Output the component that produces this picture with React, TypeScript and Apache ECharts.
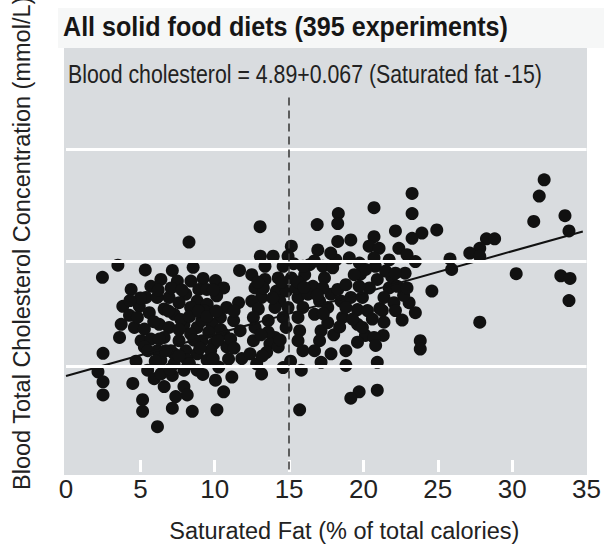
import React, { useEffect, useRef } from "react";
import * as echarts from "echarts";

// [saturated fat % of calories, blood total cholesterol mmol/L]
const experiments: [number, number][] = [
  [3.49, 5.92], [2.45, 5.69], [5.33, 5.83], [4.38, 5.46], [5.71, 5.52], [5.38, 5.31], [3.82, 5.14], [4.93, 5.14],
  [5.6, 5.02], [3.71, 4.8], [4.6, 4.74], [5.27, 4.71], [5.05, 4.49], [5.71, 4.52], [2.49, 4.25], [4.71, 4.1],
  [2.15, 3.9], [2.49, 3.71], [2.49, 3.46], [4.49, 3.68], [5.15, 3.37], [5.15, 3.15], [5.49, 3.93], [5.93, 3.77],
  [8.27, 6.36], [8.55, 5.88], [7.15, 5.82], [6.38, 5.65], [7.49, 5.62], [9.22, 5.67], [10.05, 5.63], [10.6, 5.49],
  [11.67, 5.82], [8.93, 5.46], [6.93, 5.31], [8.05, 5.37], [8.82, 5.24], [9.49, 5.18], [11.6, 5.21], [6.6, 5.09],
  [7.27, 4.99], [8.38, 5.12], [9.27, 5.06], [10.38, 4.93], [11.27, 4.87], [6.27, 4.8], [6.93, 4.74], [7.93, 4.8],
  [8.82, 4.74], [9.82, 4.8], [10.6, 4.62], [11.71, 4.68], [6.6, 4.55], [7.6, 4.49], [8.38, 4.62], [9.15, 4.49],
  [9.93, 4.43], [10.82, 4.37], [6.15, 4.3], [7.05, 4.3], [8.05, 4.3], [8.82, 4.24], [11.82, 4.15], [12.38, 4.24],
  [6.38, 4.12], [7.27, 4.05], [8.15, 4.12], [9.49, 4.12], [10.27, 3.99], [6.38, 3.86], [7.15, 3.83], [7.93, 3.93],
  [8.82, 3.93], [11.15, 3.8], [10.05, 3.74], [6.6, 3.62], [7.93, 3.62], [8.15, 3.46], [7.38, 3.43], [10.6, 3.52],
  [7.15, 3.21], [8.49, 3.15], [10.15, 3.18], [6.15, 2.86],
  [4.27, 4.97], [6.13, 5.31], [7.73, 4.89], [8.6, 4.5], [9.6, 4.65], [11.07, 4.52], [9.13, 4.87], [7.6, 5.21],
  [10.13, 5.34], [10.8, 5.12], [6.27, 4.52], [7.27, 4.24], [9.73, 4.31], [10.93, 4.14], [5.27, 4.37], [4.8, 4.93],
  [8.4, 5.62], [9.47, 5.46], [7.07, 5.49], [3.6, 4.55],
  [5.9, 4.85], [6.9, 5.05], [7.6, 4.7], [8.3, 4.95], [8.9, 5.05], [9.5, 4.95], [10.1, 5.05], [10.4, 4.7],
  [9.0, 4.35], [8.3, 4.05], [7.6, 4.2], [6.7, 4.3], [9.9, 4.15], [11.3, 4.35], [11.3, 5.05], [7.8, 5.45],
  [6.2, 5.45], [5.0, 5.3], [4.3, 5.25], [9.9, 5.45], [6.0, 4.1], [5.5, 4.3], [7.0, 3.95], [9.2, 3.85], [10.2, 4.5],
  [13.05, 6.65], [16.89, 6.69], [18.31, 6.9], [18.27, 6.71], [15.15, 6.28], [16.93, 6.21], [18.27, 6.37], [13.93, 6.09],
  [14.93, 6.09], [18.15, 6.02], [14.6, 5.9], [13.38, 5.9], [16.38, 5.93], [17.27, 5.9], [12.49, 5.74], [15.15, 5.68],
  [16.05, 5.74], [17.38, 5.68], [13.38, 5.65], [12.71, 5.49], [14.15, 5.43], [14.82, 5.43], [16.6, 5.52], [17.82, 5.37],
  [13.15, 5.31], [15.6, 5.31], [16.27, 5.37], [12.49, 5.24], [14.38, 5.24], [17.05, 5.24], [18.49, 5.24], [12.93, 5.09],
  [14.05, 5.12], [14.93, 5.12], [15.93, 5.12], [17.6, 5.12], [12.6, 4.93], [13.6, 4.87], [14.6, 4.93], [15.6, 4.93],
  [16.71, 4.99], [18.6, 4.93], [12.71, 4.74], [15.71, 4.68], [17.15, 4.68], [14.05, 4.55], [12.6, 4.49], [15.6, 4.49],
  [17.05, 4.49], [18.0, 4.6], [13.71, 4.43], [15.93, 4.3], [16.71, 4.3], [13.49, 4.27], [17.82, 4.24], [17.15, 4.08],
  [12.82, 4.05], [13.15, 3.86], [14.6, 3.98], [15.82, 3.93], [15.71, 3.18],
  [13.27, 5.49], [15.47, 5.49], [17.27, 5.49], [13.6, 4.65], [14.8, 4.74], [17.6, 4.83], [18.27, 5.46], [15.93, 5.9],
  [15.6, 5.6], [14.27, 5.68], [13.07, 6.09], [14.27, 4.37], [19.6, 5.08], [20.4, 5.49], [21.73, 5.49], [19.73, 5.96],
  [21.73, 6.02], [22.8, 5.77], [23.07, 5.21], [21.33, 4.59], [20.13, 4.59], [17.93, 5.87],
  [13.9, 5.3], [14.5, 5.6], [16.0, 5.5], [16.9, 5.35], [17.3, 5.0], [14.4, 4.5], [13.1, 4.6], [12.9, 5.6],
  [15.3, 5.95], [16.7, 6.0], [17.8, 6.15], [19.8, 5.75], [20.8, 5.9], [21.1, 5.1], [19.6, 4.8], [22.7, 5.35],
  [21.9, 5.7], [18.4, 4.75], [13.2, 4.2], [15.1, 4.1],
  [23.27, 7.28], [23.27, 6.9], [20.71, 7.01], [22.15, 6.57], [23.93, 6.53], [24.93, 6.59], [23.27, 6.43], [19.15, 6.4],
  [20.71, 6.46], [20.38, 6.28], [21.05, 6.24], [22.38, 6.24], [22.93, 6.12], [23.49, 5.99], [20.71, 6.06], [19.05, 6.06],
  [20.15, 5.84], [19.38, 5.74], [21.49, 5.81], [22.15, 5.77], [20.93, 5.65], [18.82, 5.55], [19.71, 5.52], [22.27, 5.52],
  [22.93, 5.49], [24.6, 5.43], [19.15, 5.31], [19.93, 5.31], [21.38, 5.31], [22.05, 5.21], [18.82, 5.12], [20.27, 5.06],
  [21.27, 5.06], [22.15, 5.06], [23.49, 5.02], [19.27, 4.9], [20.6, 4.9], [21.38, 4.84], [22.6, 4.88], [19.93, 4.74],
  [20.71, 4.55], [23.82, 4.49], [23.82, 4.33], [19.6, 4.46], [20.82, 4.4], [18.82, 4.3], [20.93, 4.08], [18.82, 4.02],
  [20.93, 3.55], [19.71, 3.52], [19.15, 3.4],
  [28.27, 6.42], [28.82, 6.42], [27.82, 6.24], [27.15, 6.15], [27.82, 6.09], [25.82, 6.04], [25.93, 5.84], [30.27, 5.76],
  [27.82, 4.84],
  [32.15, 7.54], [31.82, 7.23], [31.45, 6.75], [33.55, 6.86], [33.82, 6.57], [33.27, 5.72], [33.89, 5.67], [33.82, 5.25],
];

const xLabelTicks = [5, 10, 15, 20, 25, 30];
const gridLevels = [4, 6, 8.12];
const regressionLine: [number, number][] = [[0, 3.82], [34.75, 6.56]];
const referenceFat = 15;
const referenceTop = 9.1;

const titleText = "All solid food diets (395 experiments)";
const equationText = "Blood cholesterol = 4.89+0.067 (Saturated fat -15)";
const xName = "Saturated Fat (% of total calories)";
const yName = "Blood Total Cholesterol Concentration (mmol/L)";

const SANS = '"Liberation Sans", Arial, Helvetica, sans-serif';

export default function App() {
  const ref = useRef<HTMLDivElement>(null);

  useEffect(() => {
    if (!ref.current) return;
    const chart = echarts.init(ref.current, null, { renderer: "svg" });
    chart.setOption({
      animation: false,
      backgroundColor: "#ffffff",
      grid: { left: 66, right: 13, top: 50, bottom: 72 },
      xAxis: {
        type: "value",
        min: 0,
        max: 35,
        interval: 5,
        axisLine: { show: false },
        splitLine: { show: false },
        axisTick: {
          show: true,
          inside: true,
          length: 12,
          customValues: xLabelTicks,
          lineStyle: { color: "#ffffff", width: 3 },
        },
        axisLabel: { fontFamily: SANS, fontSize: 26, color: "#222222", margin: 4 },
        name: xName,
        nameLocation: "middle",
        nameGap: 47,
        nameTextStyle: { fontFamily: SANS, fontSize: 23.5, color: "#222222", padding: [0, 0, 0, 36] },
      },
      yAxis: {
        type: "value",
        min: 2,
        max: 10,
        interval: 2,
        axisLine: { show: false },
        axisTick: { show: false },
        axisLabel: { show: false },
        splitLine: { show: false },
      },
      graphic: [
        {
          type: "rect",
          z: -20,
          silent: true,
          shape: { x: 58, y: 8, width: 546, height: 40 },
          style: { fill: "#f6f7f7" },
        },
        {
          type: "rect",
          z: -10,
          silent: true,
          shape: { x: 64, y: 48, width: 523, height: 427 },
          style: { fill: "#d9dcdf" },
        },
        {
          type: "text",
          x: 63,
          y: 27,
          scaleX: 0.93,
          z: 10,
          style: {
            text: titleText,
            fontFamily: SANS,
            fontWeight: "bold",
            fontSize: 27,
            fill: "#161616",
            align: "left",
            verticalAlign: "middle",
          },
        },
        {
          type: "text",
          x: 68,
          y: 74,
          scaleX: 0.82,
          z: 10,
          style: {
            text: equationText,
            fontFamily: SANS,
            fontSize: 26,
            fill: "#222222",
            align: "left",
            verticalAlign: "middle",
          },
        },
        {
          type: "text",
          x: 22,
          y: 490,
          rotation: Math.PI / 2,
          style: {
            text: yName,
            fontFamily: SANS,
            fontSize: 23.5,
            fill: "#222222",
            align: "left",
            verticalAlign: "middle",
          },
        },
      ],
      series: [
        {
          type: "line",
          data: [],
          z: 1,
          silent: true,
          markLine: {
            silent: true,
            symbol: ["none", "none"],
            label: { show: false },
            data: [
              ...gridLevels.map((v) => ({
                yAxis: v,
                lineStyle: { color: "#ffffff", width: 3, type: "solid" },
              })),
              [
                { coord: [referenceFat, referenceTop], lineStyle: { color: "#333333", width: 1.5, type: [8, 5] } },
                { coord: [referenceFat, 2] },
              ],
            ],
          },
        },
        {
          type: "scatter",
          data: experiments,
          symbolSize: 13,
          z: 3,
          itemStyle: { color: "#111111", opacity: 1 },
        },
        {
          type: "line",
          data: regressionLine,
          symbol: "none",
          z: 4,
          lineStyle: { color: "#111111", width: 2 },
        },
      ],
    });
    return () => chart.dispose();
  }, []);

  return (
    <div
      ref={ref}
      style={{ position: "fixed", left: 0, top: 0, width: 604, height: 548, background: "#ffffff" }}
    />
  );
}
